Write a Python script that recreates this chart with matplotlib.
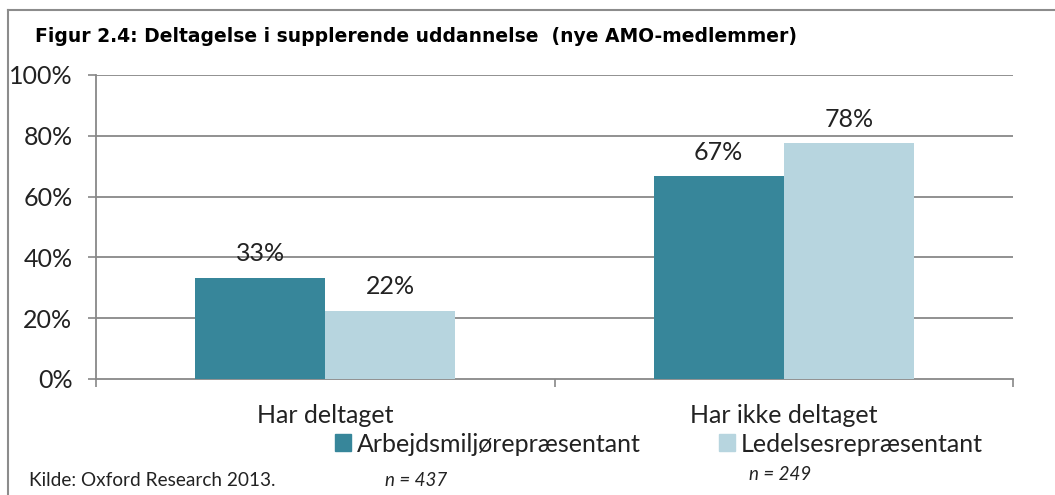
import matplotlib.pyplot as plt
from matplotlib.lines import Line2D
from matplotlib.patches import Patch
import numpy as np

categories = ['Har deltaget', 'Har ikke deltaget']
series = ['Arbejdsmiljørepræsentant', 'Ledelsesrepræsentant']
arbejdsmiljo = [33.3, 66.7]
ledelse = [22.4, 77.6]
n_labels = ['n = 437', 'n = 249']
yticks = [0, 20, 40, 60, 80, 100]

dark = '#37869a'
light = '#b7d5df'
grid_col = '#888888'


def main():
    plt.rcParams['font.family'] = ['Lato', 'DejaVu Sans']
    fig = plt.figure(figsize=(10.55, 4.95), dpi=100)
    ax = fig.add_axes([96 / 1055, 1 - 379 / 495, (1013 - 96) / 1055, (379 - 75) / 495])

    x = np.arange(len(categories))
    w = 0.284
    b1 = ax.bar(x - w / 2, arbejdsmiljo, w, color=dark, zorder=3)
    b2 = ax.bar(x + w / 2, ledelse, w, color=light, zorder=3)
    for bars in (b1, b2):
        for r in bars:
            ax.annotate('%d%%' % round(r.get_height()),
                        (r.get_x() + r.get_width() / 2, r.get_height()),
                        xytext=(0, 9), textcoords='offset points',
                        ha='center', va='bottom', fontsize=18, color='#222222')

    ax.set_xlim(-0.5, 1.5)
    ax.set_ylim(0, 100)
    ax.set_yticks(yticks)
    ax.set_yticklabels(['%d%%' % v for v in yticks])
    ax.tick_params(axis='y', length=6, width=1.2, color=grid_col, pad=11,
                   labelsize=18, labelcolor='#222222')
    ax.set_xticks(x)
    ax.set_xticklabels(categories)
    ax.set_xticks([-0.5, 0.5, 1.5], minor=True)
    ax.tick_params(axis='x', which='major', length=0, pad=18, labelsize=18,
                   labelcolor='#222222')
    ax.tick_params(axis='x', which='minor', length=6, width=1.2, color=grid_col)
    for v in yticks[1:]:
        ax.axhline(v, color=grid_col, lw=1.3, zorder=1)
    for s in ('top', 'right'):
        ax.spines[s].set_visible(False)
    for s in ('left', 'bottom'):
        ax.spines[s].set_color(grid_col)
        ax.spines[s].set_linewidth(1.3)

    handles = [Patch(color=dark), Patch(color=light)]
    fig.legend(handles, series, ncol=2, frameon=False, fontsize=18,
               loc='center', bbox_to_anchor=(659 / 1055, 1 - 444 / 495),
               handlelength=0.65, handleheight=0.65, handletextpad=0.25,
               columnspacing=3.1, labelcolor='#222222')

    fig.text(35 / 1055, 1 - 37 / 495,
             'Figur 2.4: Deltagelse i supplerende uddannelse  (nye AMO-medlemmer)',
             family='DejaVu Sans', weight='bold', fontsize=13.5, va='center', ha='left')
    fig.text(29 / 1055, 1 - 481 / 495, 'Kilde: Oxford Research 2013.',
             fontsize=13.7, va='center', ha='left', color='#222222')
    fig.text(416 / 1055, 1 - 480 / 495, n_labels[0], style='italic',
             fontsize=13.5, va='center', ha='center', color='#222222')
    fig.text(780 / 1055, 1 - 475 / 495, n_labels[1], style='italic',
             fontsize=13.5, va='center', ha='center', color='#222222')

    # frame around the figure (top and left only)
    fig.add_artist(Line2D([8 / 1055, 1], [1 - 10 / 495, 1 - 10 / 495],
                          transform=fig.transFigure, color='#8c8c8c', lw=1.5))
    fig.add_artist(Line2D([8 / 1055, 8 / 1055], [0, 1 - 10 / 495],
                          transform=fig.transFigure, color='#8c8c8c', lw=1.5))

    fig.savefig('out.png', dpi=100)


if __name__ == '__main__':
    main()
